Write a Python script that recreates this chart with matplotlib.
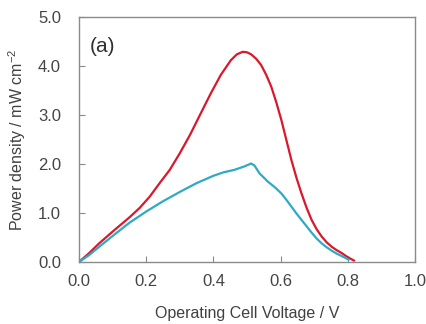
import numpy as np
import matplotlib
matplotlib.use('Agg')
import matplotlib.pyplot as plt

plt.rcParams['font.family'] = ['Liberation Sans', 'DejaVu Sans']
plt.rcParams['mathtext.fontset'] = 'custom'
plt.rcParams['mathtext.rm'] = 'Liberation Sans'

# red curve (voltage V, power density mW cm-2)
red_v = [0.0, 0.03, 0.06, 0.10, 0.15, 0.18, 0.21, 0.24, 0.27, 0.30, 0.33, 0.362,
         0.392, 0.422, 0.452, 0.470, 0.487, 0.500, 0.512, 0.527, 0.542, 0.557,
         0.572, 0.587, 0.602, 0.617, 0.632, 0.647, 0.662, 0.677, 0.692, 0.707,
         0.722, 0.737, 0.752, 0.767, 0.782, 0.797, 0.807, 0.818]
red_p = [0.0, 0.18, 0.38, 0.62, 0.91, 1.10, 1.33, 1.61, 1.88, 2.22, 2.59, 3.03,
         3.44, 3.82, 4.12, 4.24, 4.29, 4.28, 4.24, 4.15, 4.02, 3.82,
         3.58, 3.26, 2.90, 2.49, 2.08, 1.72, 1.40, 1.11, 0.86, 0.67,
         0.52, 0.40, 0.31, 0.24, 0.18, 0.11, 0.07, 0.03]

# blue curve
blue_v = [0.0, 0.03, 0.06, 0.10, 0.15, 0.20, 0.25, 0.30, 0.35, 0.40, 0.43,
          0.462, 0.492, 0.512, 0.522, 0.537, 0.562, 0.582, 0.602, 0.617, 0.632,
          0.647, 0.662, 0.677, 0.692, 0.707, 0.722, 0.737, 0.752, 0.767, 0.782,
          0.802]
blue_p = [0.0, 0.14, 0.31, 0.53, 0.80, 1.03, 1.24, 1.43, 1.61, 1.76, 1.83,
          1.88, 1.95, 2.01, 1.97, 1.81, 1.64, 1.53, 1.40, 1.27, 1.13,
          0.99, 0.86, 0.73, 0.60, 0.48, 0.38, 0.30, 0.23, 0.17, 0.12,
          0.05]

xticks = [0.0, 0.2, 0.4, 0.6, 0.8, 1.0]
yticks = [0.0, 1.0, 2.0, 3.0, 4.0, 5.0]

fig = plt.figure(figsize=(4.26, 3.24), dpi=100)
ax = fig.add_axes([0.1854, 0.1914, 0.789, 0.756])

ax.plot(red_v, red_p, color='#d8192b', lw=1.6, solid_joinstyle='round')
ax.plot(blue_v, blue_p, color='#2fa9c4', lw=1.6, solid_joinstyle='round')

ax.set_xlim(0, 1.0)
ax.set_ylim(0, 5.0)
ax.set_xticks(xticks)
ax.set_yticks(yticks)
ax.set_xticklabels(['%.1f' % t for t in xticks])
ax.set_yticklabels(['%.1f' % t for t in yticks])

for s in ax.spines.values():
    s.set_color('#8a8a8a')
    s.set_linewidth(1.0)
ax.tick_params(direction='in', length=4, color='#8a8a8a', labelsize=12,
               labelcolor='#454545')
ax.tick_params(axis='x', pad=9)
ax.tick_params(axis='y', pad=13)

ax.set_xlabel('Operating Cell Voltage / V', fontsize=11.5, color='#404040', labelpad=12)
ax.set_ylabel('Power density / mW cm$^{-2}$', fontsize=11.5, color='#404040', labelpad=7)
ax.text(0.033, 0.88, '(a)', transform=ax.transAxes, fontsize=15, color='#303030',
        va='center')

fig.savefig('out.png', dpi=100)
